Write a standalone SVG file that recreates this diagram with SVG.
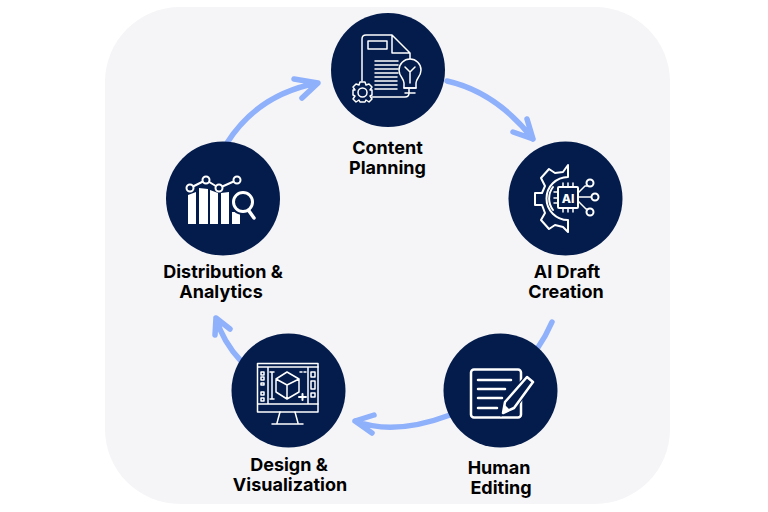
<svg xmlns="http://www.w3.org/2000/svg" width="768" height="512" viewBox="0 0 768 512">
<style>
.c{fill:#041c4b}
.l{fill:none;stroke:#fff;stroke-width:1.5;stroke-linejoin:round;stroke-linecap:round}
.t{fill:none;stroke:#fff;stroke-width:2;stroke-linejoin:round;stroke-linecap:round}
.f{fill:#fff}
.k{fill:#041c4b;stroke:#fff;stroke-width:1.500;stroke-linejoin:round}
.a{fill:none;stroke:#8fb0fb;stroke-width:5.500;stroke-linecap:round;stroke-linejoin:round}
text{font-family:"Inter","Liberation Sans",sans-serif;font-size:18px;font-weight:700;fill:#000;text-anchor:middle}
</style>
<rect x="105" y="7" width="565" height="497" rx="75" fill="#f5f5f8"/>
<g id="connectors">
<path class="a" d="M447 81Q496 92 533 139M527 119L533 139L513 132"/>
<path class="a" d="M552 322Q546 336 537 349"/>
<path class="a" d="M450 415Q394 436 355 421M374 415L355 421L372 433"/>
<path class="a" d="M241 361Q223 342 216 318M215 335L216 318L230 329"/>
<path class="a" d="M227 143Q258 94 318 83M294 79L318 83L302 98"/>
</g>
<g id="content-planning">
<circle class="c" cx="388" cy="70" r="57"/>
<path class="l" d="M392 35H366Q362 35 362 39V81M392 35L410 53V61M392 35V53H410M372 97H405Q409 97 409 93V89"/>
<rect class="l" x="368" y="41" width="19" height="8"/>
<path class="l" d="M375 61H398M375 65H398M375 69H398M375 73H398M375 77H397M375 81H397M375 85H397M375 89H397"/>
<path class="k" d="M404 88V83Q404 81 402 78Q399 74 399 70A11 11 0 0 1 421 70Q421 74 418 78Q416 81 416 83V88Z"/>
<path class="l" d="M405 93H415M410 83V72M405 67L410 72L415 67M404 88H416"/>
<path class="k" d="M360 82H365L366 85L369 84L372 87L370 90L372 90V95L370 96L372 99L369 102L366 100L365 102H360L359 100L356 102L353 99L355 96L353 95V90L355 90L353 87L356 84L359 85Z"/>
<circle class="l" cx="362.500" cy="92.500" r="4.500"/>
<text x="387.500" y="154">Content</text>
<text x="387.500" y="174">Planning</text>
</g>
<g id="ai-draft-creation">
<circle class="c" cx="565.500" cy="198.500" r="57"/>
<path class="t" d="M568 165L563 172L555 173L549 169L541 178L545 186L542 193H535V205H542L545 213L541 220L549 229L555 225L563 227L568 232V220A21 21 0 0 1 568 177Z"/>
<path class="t" d="M553 187A19 19 0 0 0 553 210"/>
<rect class="t" x="558" y="187" width="20" height="21" rx="1"/>
<path class="l" d="M563 183V187M568 183V187M573 183V187M563 208V212M568 208V212M573 208V212M554 192H558M554 198H558M554 203H558"/>
<text x="568" y="202.500" style="font-size:12px;font-weight:800;fill:#fff">AI</text>
<path class="t" style="stroke-width:1.500" d="M578 193L585 186H587M578 197H591M578 201L586 209H587"/>
<circle class="t" cx="590" cy="183" r="3.500"/>
<circle class="t" cx="595" cy="197" r="3.500"/>
<circle class="t" cx="590" cy="212" r="3.500"/>
<text x="567" y="278">AI Draft</text>
<text x="566" y="298">Creation</text>
</g>
<g id="human-editing">
<circle class="c" cx="500.500" cy="390.500" r="57"/>
<rect class="t" style="stroke-width:2.500" x="471" y="369.500" width="50" height="48" rx="3"/>
<path class="t" style="stroke-width:2.500" d="M478 380H511M478 389H505M478 398H502M478 408H497"/>
<path fill="#041c4b" stroke="#041c4b" stroke-width="6" d="M527 378L532 382L513 408L504 412L505 402Z"/>
<path fill="#041c4b" stroke="#fff" stroke-width="2.500" stroke-linejoin="round" d="M527 377L533 382L514 408L503 413L505 402Z"/>
<path class="f" d="M503 413L505 405L510 410Z"/>
<text x="499" y="474">Human</text>
<text x="501" y="494">Editing</text>
</g>
<g id="design-visualization">
<circle class="c" cx="288.500" cy="390.500" r="57"/>
<rect class="l" x="257.500" y="363.500" width="60.500" height="48.500"/>
<path class="l" d="M258 367H318M258 404H318M268 367V404M308 367V404M280 412L277 423M295 412L298 423M272 424H303"/>
<path class="l" d="M261 372H264V375H261ZM261 377H264V380H261ZM261 383H264V385H261ZM261 392H264V395H261ZM261 398H264V401H261ZM311 372H315V377H311ZM311 381H315V389H311ZM311 393H315V397H311Z"/>
<path class="l" d="M272 372V399M270 372H274M270 399H274"/>
<path class="l" d="M287 372L299 379V392L287 399L276 392V379ZM276 379L287 385L299 379M287 385V399"/>
<path class="t" d="M299 397H306M302.500 394V400"/>
<path class="l" d="M300 372H302M304 372H306"/>
<text x="289" y="471">Design &amp;</text>
<text x="290" y="491">Visualization</text>
</g>
<g id="distribution-analytics">
<circle class="c" cx="223" cy="198.500" r="57"/>
<path class="f" d="M188 195L196 192V224H188ZM199 188L208 189V224H199ZM210 190L218 193V224H210ZM221 193L229 192V224H221ZM232 212H240V224H232Z"/>
<path class="t" d="M190 188L206 180L219 188L237 180"/>
<circle class="k" style="stroke-width:2" cx="190" cy="188" r="3.500"/>
<circle class="k" style="stroke-width:2" cx="206" cy="180" r="3.500"/>
<circle class="k" style="stroke-width:2" cx="219" cy="188" r="3.500"/>
<circle class="k" style="stroke-width:2" cx="237" cy="180" r="3.500"/>
<circle cx="243" cy="202" r="10" fill="#041c4b" stroke="#041c4b" stroke-width="6"/>
<circle cx="243" cy="202" r="9.500" fill="#041c4b" stroke="#fff" stroke-width="3"/>
<path d="M249 211L254 218" fill="none" stroke="#fff" stroke-width="3.500" stroke-linecap="round"/>
<text x="223" y="278">Distribution &amp;</text>
<text x="221" y="298">Analytics</text>
</g>
</svg>
